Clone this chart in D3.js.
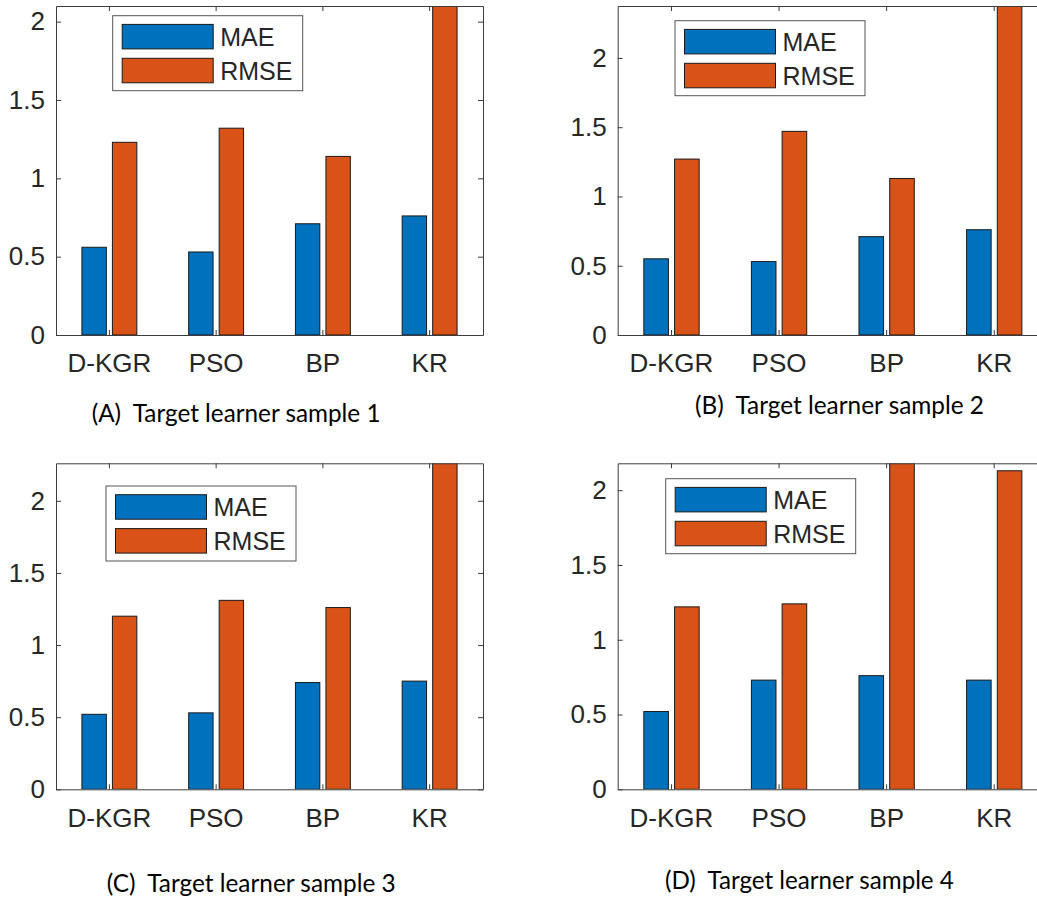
<!DOCTYPE html>
<html>
<head>
<meta charset="utf-8">
<script src="https://cdn.jsdelivr.net/npm/d3@7"></script>
<style>
  body { margin: 0; background: #fff; }
  svg { display: block; }
  .axis text { font-family: "Liberation Sans", Arial, sans-serif; font-size: 26px; fill: #262626; }
  .axis path, .axis line { stroke: #3c3c3c; stroke-width: 1; }
</style>
</head>
<body>
<svg id="chart" width="1037" height="898"></svg>
<script>
// categories + series
const categories = ['D-KGR', 'PSO', 'BP', 'KR'];
const seriesNames = ['MAE', 'RMSE'];
const yTicks = [0, 0.5, 1, 1.5, 2];

// values (bars above the axis limit get clipped)
const maeA = [0.56, 0.53, 0.71, 0.76];
const rmseA = [1.23, 1.32, 1.14, 2.36];
const maeB = [0.55, 0.53, 0.71, 0.76];
const rmseB = [1.27, 1.47, 1.13, 2.52];
const maeC = [0.52, 0.53, 0.74, 0.75];
const rmseC = [1.20, 1.31, 1.26, 2.41];
const maeD = [0.52, 0.73, 0.76, 0.73];
const rmseD = [1.22, 1.24, 2.31, 2.13];

const yLimits = [2.1, 2.375, 2.26, 2.18];
const captions = ['(A)  Target learner sample 1', '(B)  Target learner sample 2',
                  '(C)  Target learner sample 3', '(D)  Target learner sample 4'];

const colors = { MAE: '#0072BD', RMSE: '#D95319' };

// panel geometry
const layout = [
  { left: 56, right: 483, top: 6, bottom: 335, legX: 112.7, legY: 15.7, capX: 91.7, capY: 422 },
  { left: 617.7, right: 1048, top: 6, bottom: 335, legX: 675, legY: 20.7, capX: 695, capY: 414 },
  { left: 56, right: 483, top: 463.3, bottom: 789.3, legX: 106, legY: 486, capX: 106.7, capY: 892 },
  { left: 617.7, right: 1048, top: 463.3, bottom: 789.3, legX: 665.7, legY: 478.7, capX: 665, capY: 889 }
];

const panels = [
  { mae: maeA, rmse: rmseA },
  { mae: maeB, rmse: rmseB },
  { mae: maeC, rmse: rmseC },
  { mae: maeD, rmse: rmseD }
].map((p, i) => ({
  rows: categories.map((c, j) => ({ cat: c, MAE: p.mae[j], RMSE: p.rmse[j] })),
  yMax: yLimits[i],
  caption: captions[i],
  ...layout[i]
}));

const svg = d3.select('#chart');
const CAPTION_W = 289;

const drawPanel = (p, i) => {
  const g = svg.append('g');

  const x = d3.scaleBand().domain(categories).range([p.left, p.right]).padding(0);
  // MATLAB style grouped bars: group width 0.571, bar 0.8 of slot
  const gw = 2 / 3.5 * x.bandwidth();
  const xSub = d3.scaleBand().domain(seriesNames)
    .range([-gw / 2, gw / 2])
    .paddingInner(0.2)
    .paddingOuter(0.1);
  const y = d3.scaleLinear().domain([0, p.yMax]).range([p.bottom, p.top]);

  const clipId = 'clip' + i;
  svg.append('clipPath').attr('id', clipId)
    .append('rect')
    .attr('x', p.left).attr('y', p.top)
    .attr('width', p.right - p.left).attr('height', p.bottom - p.top);

  // bars
  g.append('g')
    .attr('clip-path', `url(#${clipId})`)
    .selectAll('g')
    .data(p.rows)
    .enter()
    .append('g')
    .attr('transform', d => `translate(${x(d.cat) + x.bandwidth() / 2},0)`)
    .selectAll('rect')
    .data(d => seriesNames.map(k => ({ key: k, value: d[k] })))
    .enter()
    .append('rect')
    .attr('x', d => xSub(d.key))
    .attr('width', xSub.bandwidth())
    .attr('y', d => y(d.value))
    .attr('height', d => p.bottom - y(d.value))
    .attr('fill', d => colors[d.key])
    .attr('stroke', '#1a1a1a')
    .attr('stroke-width', 1);

  // axes (box with inward ticks)
  g.append('g')
    .attr('class', 'axis')
    .attr('transform', `translate(${p.left},0)`)
    .call(d3.axisLeft(y).tickValues(yTicks).tickFormat(d => String(d))
      .tickSize(-5).tickSizeOuter(0).tickPadding(11));

  g.append('g')
    .attr('class', 'axis')
    .attr('transform', `translate(${p.right},0)`)
    .call(d3.axisRight(y).tickValues(yTicks).tickFormat('')
      .tickSize(-5).tickSizeOuter(0));

  g.append('g')
    .attr('class', 'axis')
    .attr('transform', `translate(0,${p.bottom})`)
    .call(d3.axisBottom(x).tickSize(-5).tickSizeOuter(0).tickPadding(19));

  g.append('g')
    .attr('class', 'axis')
    .attr('transform', `translate(0,${p.top})`)
    .call(d3.axisTop(x).tickFormat('').tickSize(-5).tickSizeOuter(0));

  // legend
  const leg = g.append('g').attr('transform', `translate(${p.legX},${p.legY})`);
  leg.append('rect')
    .attr('width', 190).attr('height', 75)
    .attr('fill', '#fff')
    .attr('stroke', '#555')
    .attr('stroke-width', 1);

  const item = leg.selectAll('.item')
    .data(seriesNames)
    .enter()
    .append('g')
    .attr('class', 'item')
    .attr('transform', (d, j) => `translate(9.5,${8.7 + j * 33.9})`);

  item.append('rect')
    .attr('width', 91).attr('height', 24.5)
    .attr('fill', d => colors[d])
    .attr('stroke', '#1a1a1a')
    .attr('stroke-width', 1);

  item.append('text')
    .attr('x', 98)
    .attr('y', 12.5)
    .attr('dy', '0.35em')
    .style('font-family', '"Liberation Sans", Arial, sans-serif')
    .style('font-size', '25px')
    .attr('fill', '#262626')
    .text(d => d);

  // caption under each panel
  const cap = g.append('text')
    .attr('x', p.capX)
    .attr('y', p.capY)
    .style('font-family', 'Lato, "Open Sans", sans-serif')
    .style('font-size', '24px')
    .style('white-space', 'pre')
    .attr('fill', '#000')
    .text(p.caption);
  const len = cap.node().getComputedTextLength();
  if (len > 0) cap.style('font-size', (24 * CAPTION_W / len) + 'px');
};

panels.forEach(drawPanel);
</script>
</body>
</html>
